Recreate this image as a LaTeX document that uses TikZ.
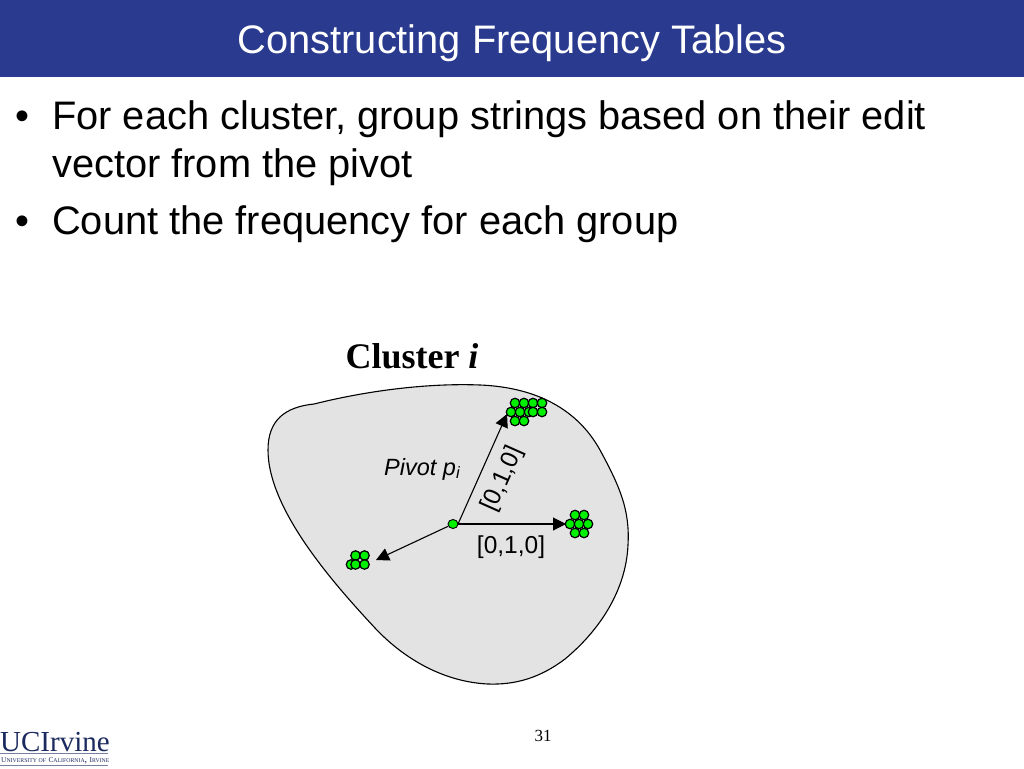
\documentclass[tikz,border=0pt]{standalone}
\usepackage{fontspec}
\setmainfont{Liberation Sans}
\newfontfamily\serifface{Liberation Serif}
\usetikzlibrary{arrows.meta,shapes.geometric}
\definecolor{banner}{HTML}{2A3B8F}
\definecolor{blobfill}{HTML}{E3E3E3}
\definecolor{dotgreen}{HTML}{00F000}
\definecolor{uciblue}{HTML}{1B2A5E}
\newcommand{\bigc}[1]{{\fontsize{7.4}{8}\selectfont #1}}
\newcommand{\smallc}[1]{{\fontsize{5.8}{8}\selectfont #1}}
\tikzset{
  sdot/.style={circle,draw=black,fill=dotgreen,line width=1.2pt,minimum size=9.5pt,inner sep=0pt,outer sep=0pt},
  pivotdot/.style={ellipse,draw=black,fill=dotgreen,line width=0.9pt,minimum width=10pt,minimum height=9pt,inner sep=0pt},
  conn/.style={draw=black,line width=1.1pt,-{Triangle[length=13pt,width=13pt]}},
  bullettext/.style={anchor=base west,inner sep=0pt,font=\fontsize{39.8}{40}\selectfont},
  labeltext/.style={inner sep=0pt,font=\fontsize{24.5}{26}\selectfont}
}
\begin{document}
\begin{tikzpicture}[x=1pt,y=-1pt]
\useasboundingbox (0,0) rectangle (1024,768);
\fill[white] (0,0) rectangle (1024,768);
\fill[banner] (0,0) rectangle (1024,77);
\node[text=white,inner sep=0pt,anchor=base,font=\fontsize{39.8}{40}\selectfont] (title) at (512,53) {Constructing Frequency Tables};
\node[bullettext] (b1) at (15,129) {•};
\node[bullettext] (t1) at (52,129) {For each cluster, group strings based on their edit};
\node[bullettext] (t1b) at (52,177) {vector from the pivot};
\node[bullettext] (b2) at (15,234) {•};
\node[bullettext] (t2) at (52,234) {Count the frequency for each group};
\node[anchor=base,inner sep=0pt,font=\serifface\bfseries\fontsize{36}{36}\selectfont] (cl) at (412,368) {Cluster \textit{i}};
\draw[black,line width=1.1pt,fill=blobfill]
  (314,404) .. controls (370,390) and (430,383) .. (480,385)
  .. controls (530,387) and (575,405) .. (600,450)
  .. controls (620,487) and (630,510) .. (628,545)
  .. controls (626,590) and (600,630) .. (565,659)
  .. controls (540,678) and (515,685) .. (488,684)
  .. controls (445,682) and (405,660) .. (375,628)
  .. controls (335,585) and (268,510) .. (268,450)
  .. controls (268,420) and (285,407) .. (314,404) -- cycle;
\foreach \n/\x/\y in {a1/515/403,a2/524/403,a3/533/403,a4/542/403,a5/511/412,a6/520/412,a7/529/412,a8/533/412,a9/542/412,a10/515/421,a11/524/421,
  c1/575/515,c2/584/515,c3/570/524,c4/579/524,c5/588/524,c6/575/533,c7/584/533,
  d1/355.5/555.5,d2/364.5/555.5,d3/351/564.5,d4/355.5/564.5,d5/364.5/564.5}
  \node[sdot] (\n) at (\x,\y) {};
\node[pivotdot] (piv) at (453,524) {};
\coordinate (topTip) at (507,414);
\coordinate (rightTip) at (566,524);
\coordinate (leftTip) at (376,560);
\coordinate (pivTop) at (458,524);
\draw[conn] (pivTop) -- (topTip);
\draw[conn] (pivTop) -- (rightTip);
\draw[conn] (piv) -- (leftTip);
\node[labeltext,anchor=base west,font=\itshape\fontsize{23.5}{24}\selectfont] (pl) at (384,475) {Pivot p\textsubscript{i}};
\node[labeltext,rotate=66] (lv) at (503,479) {[0,1,0]};
\node[labeltext] (lh) at (511,547) {[0,1,0]};
\node[anchor=base,inner sep=0pt,font=\serifface\fontsize{17}{17}\selectfont] (pg) at (543,741) {31};
\node[anchor=base west,inner sep=0pt,text=uciblue,font=\serifface\fontsize{29}{29}\selectfont] (logo) at (0,751) {UCIrvine};
\draw[uciblue!60,line width=0.6pt] (0,753.5) -- (108,753.5);
\node[anchor=base west,inner sep=0pt,text=uciblue,font=\serifface] (logosub) at (1,762) {\bigc{U}\smallc{NIVERSITY OF} \bigc{C}\smallc{ALIFORNIA}, \bigc{I}\smallc{RVINE}};
\draw[uciblue!60,line width=0.6pt] (0,765) -- (108,765);
\end{tikzpicture}
\end{document}
